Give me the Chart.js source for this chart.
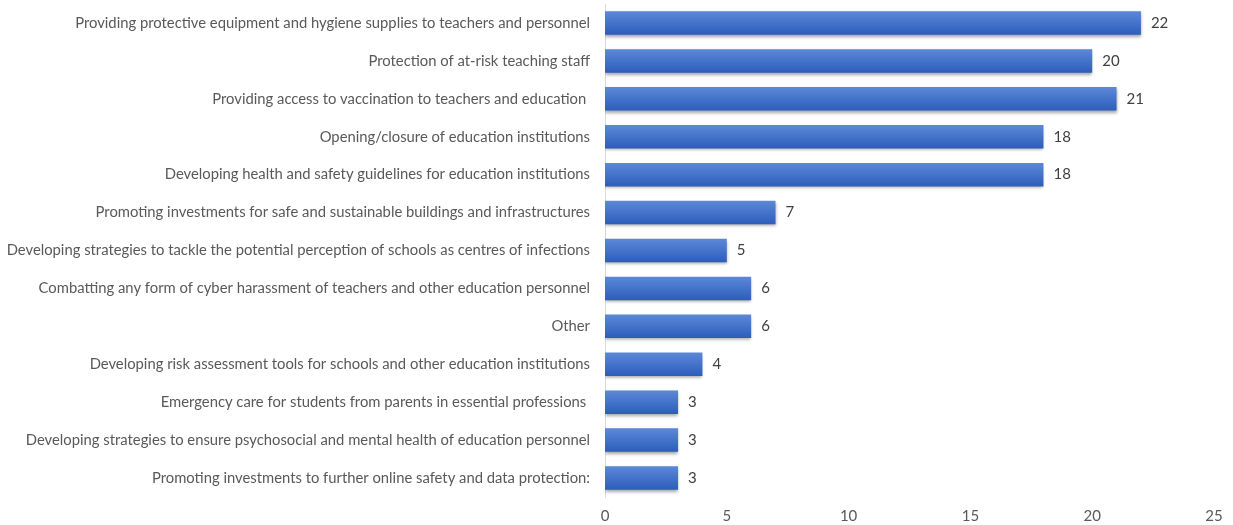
<!DOCTYPE html>
<html>
<head>
    <title>Priority measures</title>
    <script src="https://cdn.jsdelivr.net/npm/chart.js"></script>
    <style>
        html, body { margin: 0; padding: 0; background: #fff; }
        #wrap { width: 1233px; height: 525px; }
    </style>
</head>
<body>
    <div id="wrap"><canvas id="measuresChart"></canvas></div>

    <script>
        var categories = [
            'Providing protective equipment and hygiene supplies to teachers and personnel',
            'Protection of at-risk teaching staff',
            'Providing access to vaccination to teachers and education ',
            'Opening/closure of education institutions',
            'Developing health and safety guidelines for education institutions',
            'Promoting investments for safe and sustainable buildings and infrastructures',
            'Developing strategies to tackle the potential perception of schools as centres of infections',
            'Combatting any form of cyber harassment of teachers and other education personnel',
            'Other',
            'Developing risk assessment tools for schools and other education institutions',
            'Emergency care for students from parents in essential professions ',
            'Developing strategies to ensure psychosocial and mental health of education personnel',
            'Promoting investments to further online safety and data protection:'
        ];
        var counts = [22, 20, 21, 18, 18, 7, 5, 6, 6, 4, 3, 3, 3];
        var xTicks = [0, 5, 10, 15, 20, 25];

        var fontFamily = "Lato, 'Open Sans', sans-serif";
        var barPct = 0.62;

        // value printed just past the end of each bar
        var valueLabels = {
            id: 'valueLabels',
            afterDatasetsDraw: function (chart) {
                var ctx = chart.ctx;
                var meta = chart.getDatasetMeta(0);
                ctx.save();
                ctx.font = '15px ' + fontFamily;
                ctx.fillStyle = '#404040';
                ctx.textAlign = 'left';
                ctx.textBaseline = 'middle';
                meta.data.forEach(function (bar, i) {
                    ctx.fillText(counts[i], bar.x + 10, bar.y);
                });
                ctx.restore();
            }
        };

        // soft drop shadow under the bars
        var barShadow = {
            id: 'barShadow',
            beforeDatasetsDraw: function (chart) {
                chart.ctx.save();
                chart.ctx.shadowColor = 'rgba(0,0,0,0.35)';
                chart.ctx.shadowBlur = 3;
                chart.ctx.shadowOffsetY = 2;
            },
            afterDatasetsDraw: function (chart) {
                chart.ctx.restore();
            }
        };

        // vertical gradient per bar, lighter on top
        function barFill(context) {
            var chart = context.chart;
            var yScale = chart.scales && chart.scales.y;
            if (!yScale || context.dataIndex === undefined) return '#4472C4';
            var center = yScale.getPixelForValue(context.dataIndex);
            var half = (yScale.height / categories.length) * barPct / 2;
            if (!isFinite(center) || !isFinite(half) || half <= 0) return '#4472C4';
            var g = chart.ctx.createLinearGradient(0, center - half, 0, center + half);
            g.addColorStop(0, '#5D88D8');
            g.addColorStop(0.5, '#4473CB');
            g.addColorStop(1, '#2D5DBA');
            return g;
        }

        var ctx = document.getElementById('measuresChart').getContext('2d');
        var chart = new Chart(ctx, {
            type: 'bar',
            data: {
                labels: categories,
                datasets: [{
                    data: counts,
                    backgroundColor: barFill,
                    borderWidth: 0,
                    barPercentage: barPct,
                    categoryPercentage: 1
                }]
            },
            plugins: [barShadow, valueLabels],
            options: {
                indexAxis: 'y',
                responsive: true,
                maintainAspectRatio: false,
                animation: false,
                layout: { padding: { top: 4, right: 19, bottom: 0, left: 0 } },
                plugins: {
                    legend: { display: false },
                    tooltip: { enabled: false }
                },
                scales: {
                    x: {
                        min: 0,
                        max: 25,
                        afterBuildTicks: function (scale) {
                            scale.ticks = xTicks.map(function (v) { return { value: v }; });
                        },
                        afterFit: function (scale) { scale.height = 28; },
                        grid: { display: false, drawTicks: false },
                        border: { display: false },
                        ticks: {
                            color: '#595959',
                            padding: 10,
                            maxRotation: 0,
                            font: { family: fontFamily, size: 15 }
                        }
                    },
                    y: {
                        afterFit: function (scale) {
                            scale.width = 605;
                            scale.paddingTop = 0;
                            scale.paddingBottom = 0;
                        },
                        grid: { display: false, drawTicks: false },
                        border: { display: true, color: '#d9d9d9', width: 1 },
                        ticks: {
                            color: '#595959',
                            padding: 15,
                            autoSkip: false,
                            font: { family: fontFamily, size: 14.8 }
                        }
                    }
                }
            }
        });
        chart.update();
    </script>
</body>
</html>
